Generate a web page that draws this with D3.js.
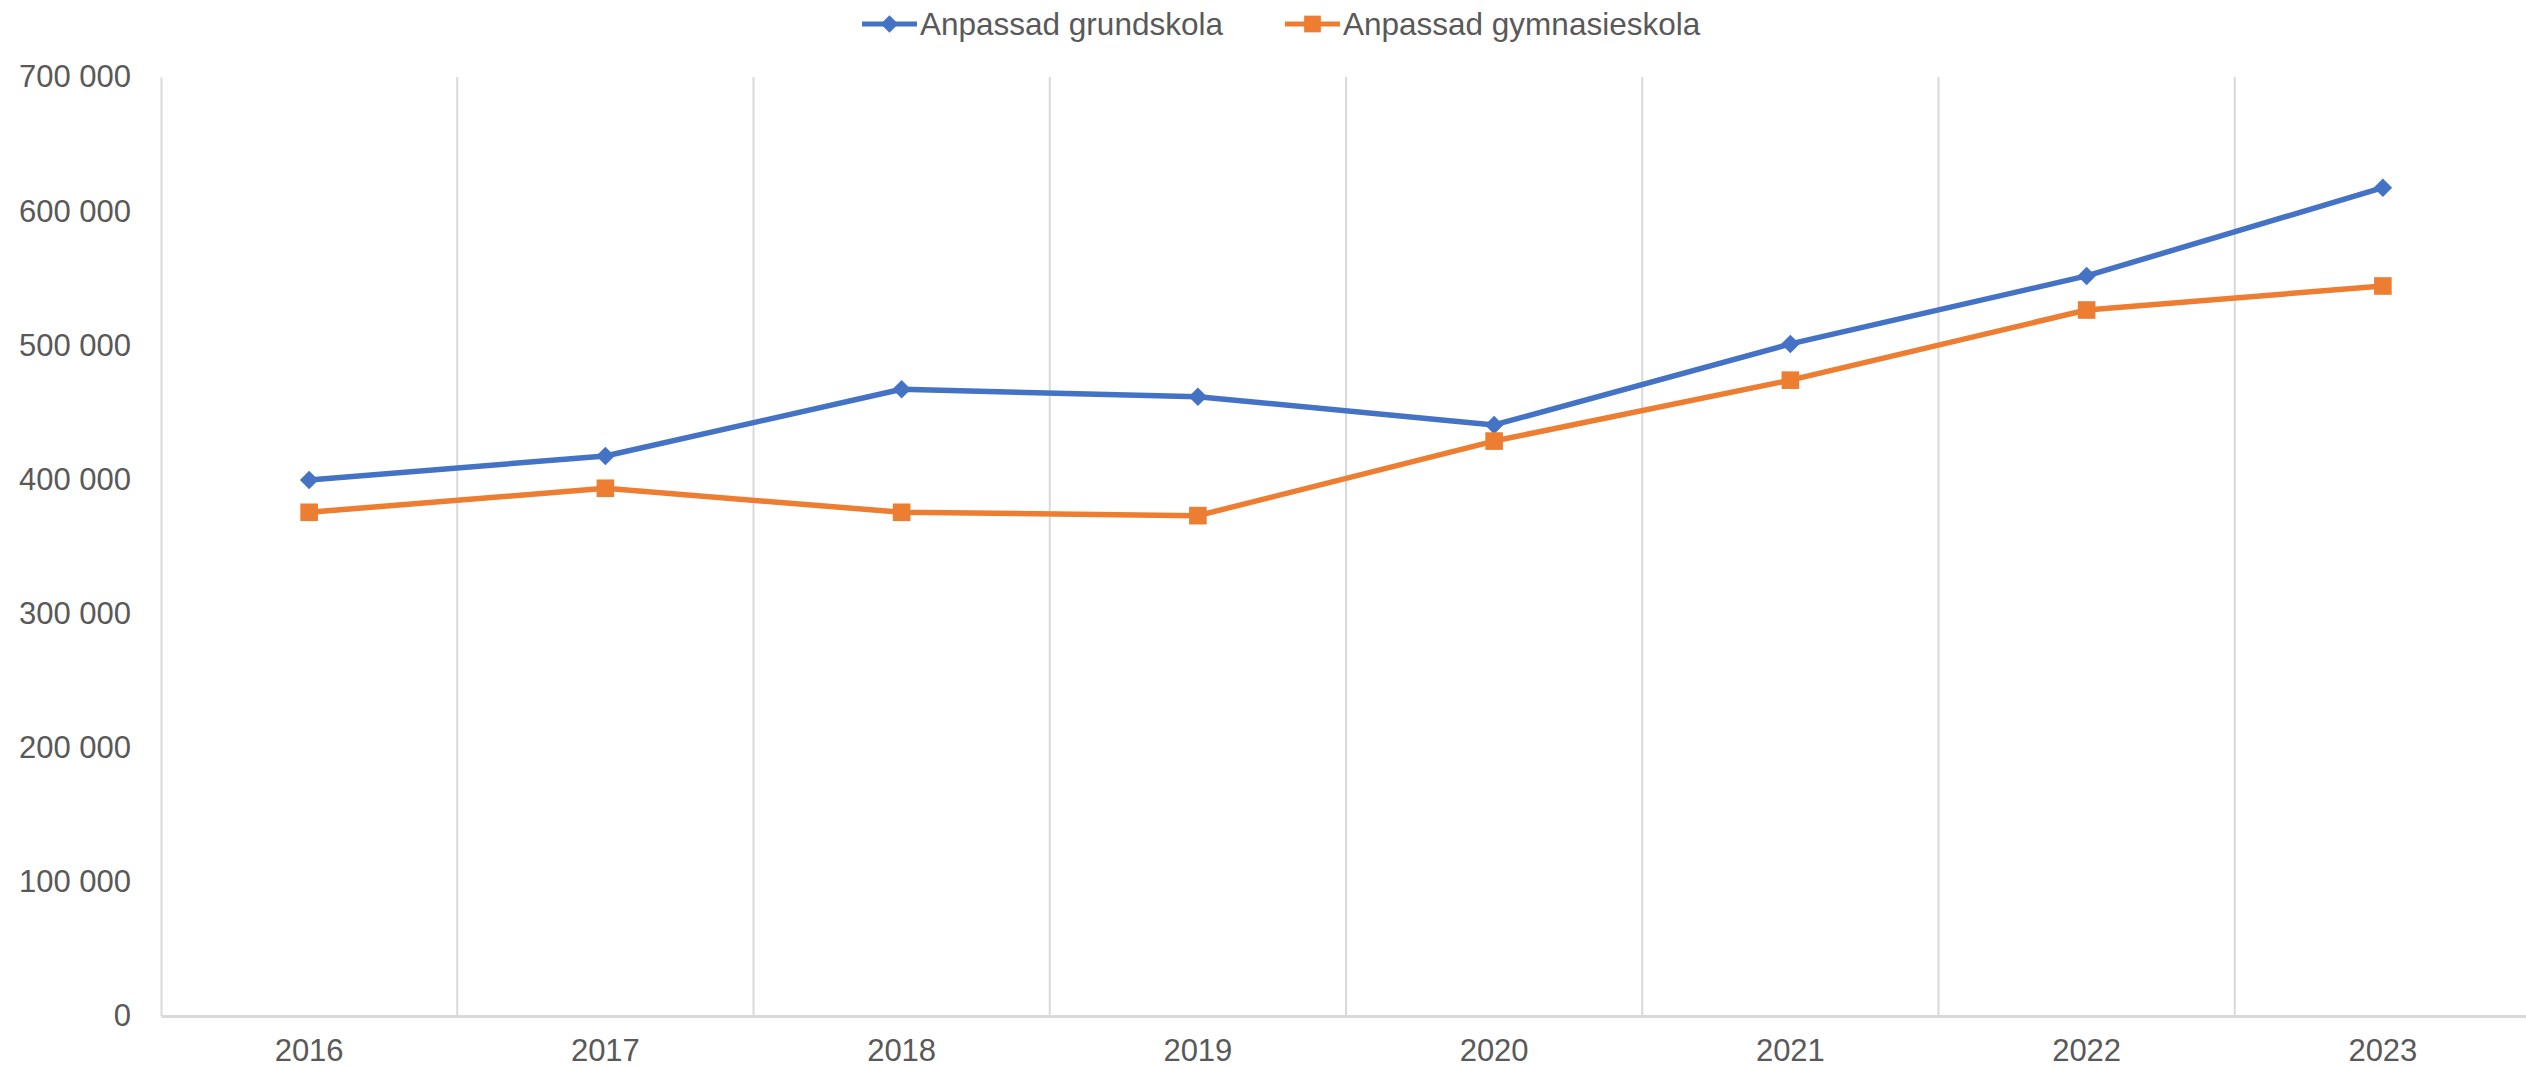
<!DOCTYPE html>
<html>
<head>
<meta charset="utf-8">
<script src="https://cdn.jsdelivr.net/npm/d3@7"></script>
<style>
  body { margin: 0; background: #fff; }
  svg { display: block; font-family: "Liberation Sans", Arial, sans-serif; }
</style>
</head>
<body>
<svg id="chart" width="2526" height="1067"></svg>
<script>
// data
var years = ["2016", "2017", "2018", "2019", "2020", "2021", "2022", "2023"];
var grundskola = [399600, 417500, 467200, 461700, 440600, 501000, 551700, 617500];
var gymnasieskola = [375500, 393400, 375500, 373000, 428600, 474000, 526300, 544200];
var yTicks = [0, 100000, 200000, 300000, 400000, 500000, 600000, 700000];
var seriesNames = ["Anpassad grundskola", "Anpassad gymnasieskola"];

(function(){
  var svg = d3.select("#chart");
  // plot box (window.top is reserved, so no bare "top" here)
  var plotLeft = 161, plotRight = 2531, plotTop = 77, plotBottom = 1016;
  var textColor = "#595959", gridColor = "#d9d9d9";

  var x = d3.scaleBand().domain(years).range([plotLeft, plotRight]);
  var y = d3.scaleLinear().domain([0, 700000]).range([plotBottom, plotTop]);
  var fmt = function(d){ return d3.format(",")(d).replace(/,/g, " "); };

  // excel-style diamond (square turned 45deg)
  var excelDiamond = {
    draw: function(ctx, size){
      var h = Math.sqrt(size / 2);
      ctx.moveTo(0, -h); ctx.lineTo(h, 0); ctx.lineTo(0, h); ctx.lineTo(-h, 0); ctx.closePath();
    }
  };

  // vertical gridlines at category boundaries
  svg.append("g").selectAll("line").data(years.slice(1)).enter().append("line")
    .attr("x1", function(d){ return x(d); }).attr("x2", function(d){ return x(d); })
    .attr("y1", plotTop).attr("y2", plotBottom)
    .attr("stroke", gridColor).attr("stroke-width", 2);

  // y axis
  var yAxis = svg.append("g").attr("transform", "translate(" + plotLeft + ",0)")
    .call(d3.axisLeft(y).tickValues(yTicks).tickFormat(fmt).tickSize(0).tickPadding(30));
  yAxis.select(".domain").attr("stroke", gridColor).attr("stroke-width", 2);
  yAxis.selectAll("text").attr("fill", textColor).style("font-size", "31px");

  // x axis
  var xAxis = svg.append("g").attr("transform", "translate(0," + plotBottom + ")")
    .call(d3.axisBottom(x).tickSize(0).tickPadding(23));
  xAxis.select(".domain").attr("stroke", gridColor).attr("stroke-width", 3);
  xAxis.selectAll("text").attr("fill", textColor).style("font-size", "31px");

  var series = [
    { name: seriesNames[0], values: grundskola, color: "#4472c4", shape: excelDiamond, size: 170 },
    { name: seriesNames[1], values: gymnasieskola, color: "#ed7d31", shape: d3.symbolSquare, size: 310 }
  ];

  var cx = function(i){ return x(years[i]) + x.bandwidth() / 2; };
  var line = d3.line()
    .x(function(d, i){ return cx(i); })
    .y(function(d){ return y(d); });

  series.forEach(function(s){
    svg.append("path").datum(s.values)
      .attr("d", line).attr("fill", "none")
      .attr("stroke", s.color).attr("stroke-width", 5.5).attr("stroke-linejoin", "round");
    svg.append("g").selectAll("path").data(s.values).enter().append("path")
      .attr("d", d3.symbol().type(s.shape).size(s.size))
      .attr("transform", function(d, i){ return "translate(" + cx(i) + "," + y(d) + ")"; })
      .attr("fill", s.color);
  });

  // legend
  var legendX = [862, 1285];
  series.forEach(function(s, i){
    var g = svg.append("g").attr("transform", "translate(" + legendX[i] + ",24)");
    g.append("line").attr("x1", 0).attr("x2", 55).attr("y1", 0).attr("y2", 0)
      .attr("stroke", s.color).attr("stroke-width", 5);
    g.append("path").attr("transform", "translate(27.5,0)")
      .attr("d", d3.symbol().type(s.shape).size(s.size * 0.9))
      .attr("fill", s.color);
    g.append("text").attr("x", 58).attr("y", 0).attr("dy", "0.35em")
      .attr("fill", textColor).style("font-size", "31.5px").text(s.name);
  });
})();
</script>
</body>
</html>
